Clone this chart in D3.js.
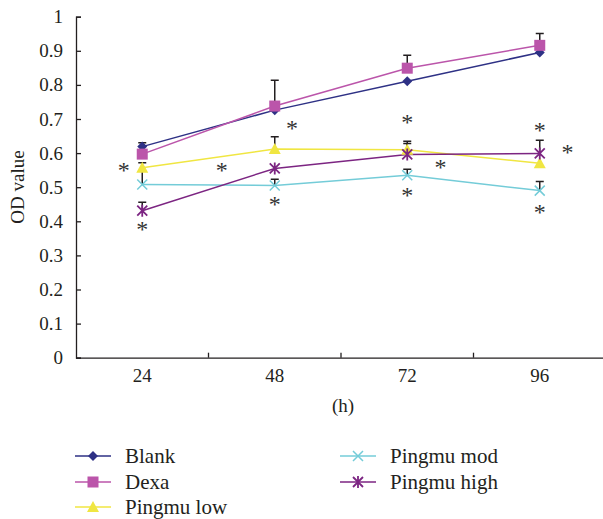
<!DOCTYPE html>
<html>
<head>
<meta charset="utf-8">
<script src="https://d3js.org/d3.v7.min.js"></script>
<style>
  body { margin: 0; background: #fff; }
</style>
</head>
<body>
<div id="chart"></div>
<script>
// data
var hours = ["24", "48", "72", "96"];
var yTicks = [0, 0.1, 0.2, 0.3, 0.4, 0.5, 0.6, 0.7, 0.8, 0.9, 1];

var blank      = [0.619, 0.726, 0.811, 0.895];
var dexa       = [0.597, 0.738, 0.849, 0.916];
var pingmuLow  = [0.557, 0.612, 0.610, 0.570];
var pingmuMod  = [0.508, 0.505, 0.535, 0.490];
var pingmuHigh = [0.431, 0.555, 0.596, 0.599];

// upper error bars (0 = none visible)
var blankErr      = [0.011, 0, 0, 0];
var dexaErr       = [0, 0.076, 0.038, 0.035];
var pingmuLowErr  = [0, 0.036, 0.025, 0];
var pingmuModErr  = [0.064, 0.018, 0.018, 0.027];
var pingmuHighErr = [0.025, 0, 0.032, 0.039];

// significance stars: category, offset (fraction of band), value
var stars = [
  ["24", -0.14, 0.562], ["24", 0, 0.388],
  ["48", -0.40, 0.562], ["48", 0.13, 0.685], ["48", 0, 0.463],
  ["72", 0, 0.703], ["72", 0, 0.490], ["72", 0.25, 0.570],
  ["96", 0, 0.680], ["96", 0, 0.440], ["96", 0.21, 0.615]
];

var series = [
  {name: "Blank",       values: blank,      err: blankErr,      color: "#2e3185", symbol: "diamond"},
  {name: "Dexa",        values: dexa,       err: dexaErr,       color: "#bb55aa", symbol: "square"},
  {name: "Pingmu low",  values: pingmuLow,  err: pingmuLowErr,  color: "#f0e642", symbol: "triangle"},
  {name: "Pingmu mod",  values: pingmuMod,  err: pingmuModErr,  color: "#74ccd8", symbol: "cross"},
  {name: "Pingmu high", values: pingmuHigh, err: pingmuHighErr, color: "#7c2582", symbol: "asterisk"}
];

var FONT = "'Liberation Serif', 'DejaVu Serif', serif";
var INK = "#231f20";

var svg = d3.select("#chart").append("svg")
  .attr("width", 603)
  .attr("height", 519)
  .style("font-family", FONT);

var x = d3.scaleBand().domain(hours).range([76, 606]);
var y = d3.scaleLinear().domain([0, 1]).range([357.7, 16.7]);
var xc = function(h) { return x(h) + x.bandwidth() / 2; };

// marker drawing
function marker(g, type, color) {
  if (type === "diamond") {
    g.append("path").attr("d", "M0,-5L5,0L0,5L-5,0Z").attr("fill", color);
  } else if (type === "square") {
    g.append("rect").attr("x", -5.5).attr("y", -5.5).attr("width", 11).attr("height", 11).attr("fill", color);
  } else if (type === "triangle") {
    g.append("path").attr("d", "M0,-6L6,5L-6,5Z").attr("fill", color);
  } else if (type === "cross") {
    g.append("path").attr("d", "M-5,-5L5,5M-5,5L5,-5").attr("stroke", color).attr("stroke-width", 1.5);
  } else {
    g.append("path").attr("d", "M-5,-5L5,5M-5,5L5,-5M0,-6V6").attr("stroke", color).attr("stroke-width", 1.8);
  }
}

// axes
var yAxis = svg.append("g")
  .attr("transform", "translate(76,0)")
  .call(d3.axisLeft(y).tickValues(yTicks).tickSize(-5).tickPadding(13)
    .tickFormat(function(d) { return d === 0 || d === 1 ? d : d3.format(".1f")(d); }));
yAxis.attr("font-family", null);
yAxis.select(".domain").attr("stroke", INK).attr("stroke-width", 1.3);
yAxis.selectAll(".tick line").attr("stroke", INK).attr("stroke-width", 1.3);
yAxis.selectAll("text").style("font-size", "19px").style("font-family", FONT).attr("fill", INK);

var xAxis = svg.append("g")
  .attr("transform", "translate(0,357.7)")
  .call(d3.axisBottom(x).tickSize(0).tickPadding(11));
xAxis.attr("font-family", null);
xAxis.select(".domain").attr("stroke", INK).attr("stroke-width", 1.3);
xAxis.selectAll("text").style("font-size", "19px").style("font-family", FONT).attr("fill", INK);

// tick marks between categories
svg.selectAll(".xtick").data(hours.slice(1)).enter().append("line")
  .attr("x1", function(d) { return x(d); })
  .attr("x2", function(d) { return x(d); })
  .attr("y1", 357.7).attr("y2", 352.7)
  .attr("stroke", INK).attr("stroke-width", 1.3);

svg.append("text")
  .attr("transform", "translate(24,187) rotate(-90)")
  .attr("text-anchor", "middle")
  .attr("fill", INK)
  .style("font-size", "19px")
  .text("OD value");

svg.append("text")
  .attr("x", 343).attr("y", 412)
  .attr("text-anchor", "middle")
  .attr("fill", INK)
  .style("font-size", "19px")
  .text("(h)");

// lines
var line = d3.line()
  .x(function(d, i) { return xc(hours[i]); })
  .y(function(d) { return y(d); });

series.forEach(function(s) {
  svg.append("path")
    .datum(s.values)
    .attr("fill", "none")
    .attr("stroke", s.color)
    .attr("stroke-width", 1.5)
    .attr("d", line);
});

// error bars
series.forEach(function(s) {
  s.err.forEach(function(e, i) {
    if (!e) return;
    var cx = xc(hours[i]);
    svg.append("path")
      .attr("d", "M" + cx + "," + y(s.values[i]) + "V" + y(s.values[i] + e) +
        "M" + (cx - 4) + "," + y(s.values[i] + e) + "H" + (cx + 4))
      .attr("stroke", INK)
      .attr("stroke-width", 1.5)
      .attr("fill", "none");
  });
});

// markers
series.forEach(function(s) {
  s.values.forEach(function(v, i) {
    var g = svg.append("g").attr("transform", "translate(" + xc(hours[i]) + "," + y(v) + ")");
    marker(g, s.symbol, s.color);
  });
});

// stars
svg.selectAll(".star").data(stars).enter().append("text")
  .attr("x", function(d) { return xc(d[0]) + d[1] * x.bandwidth(); })
  .attr("y", function(d) { return y(d[2]) + 12; })
  .attr("text-anchor", "middle")
  .style("font-size", "24px")
  .attr("fill", "#333")
  .text("*");

// legend
var legendPos = [[75, 456], [75, 482], [75, 507], [340, 456], [340, 482]];
series.forEach(function(s, i) {
  var p = legendPos[i];
  var g = svg.append("g").attr("transform", "translate(" + p[0] + "," + p[1] + ")");
  g.append("line").attr("x1", 0).attr("x2", 36).attr("stroke", s.color).attr("stroke-width", 1.5);
  var m = g.append("g").attr("transform", "translate(18,0)");
  marker(m, s.symbol, s.color);
  g.append("text")
    .attr("x", 50).attr("y", 7)
    .attr("fill", INK)
    .style("font-size", "21px")
    .text(s.name);
});
</script>
</body>
</html>
